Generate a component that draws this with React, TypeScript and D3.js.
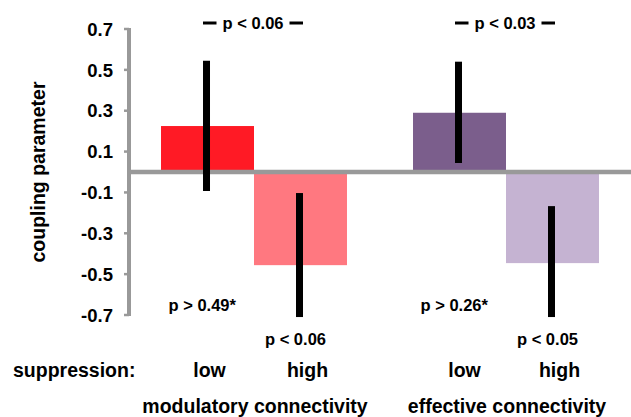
import React from "react";
import * as d3 from "d3";

const groups = ["modulatory connectivity", "effective connectivity"];
const levels = ["low", "high"];
const means = [
  [0.225, -0.456],
  [0.29, -0.446],
];
const errLo = [
  [-0.093, -0.71],
  [0.044, -0.71],
];
const errHi = [
  [0.544, -0.103],
  [0.54, -0.167],
];
const colors = [
  ["#FF1A25", "#FF7880"],
  ["#7B5E8C", "#C5B3D2"],
];
const topPLabels = ["p < 0.06", "p < 0.03"];
const lowPLabels = ["p > 0.49*", "p > 0.26*"];
const highPLabels = ["p < 0.06", "p < 0.05"];
const yTicks = [0.7, 0.5, 0.3, 0.1, -0.1, -0.3, -0.5, -0.7];

const W = 631;
const H = 417;
const FONT = "'Liberation Sans', Arial, Helvetica, sans-serif";

export default function App() {
  const y = d3.scaleLinear().domain([-0.7, 0.7]).range([315, 29]);
  const xg = d3
    .scaleBand<string>()
    .domain(groups)
    .range([128, 632])
    .paddingInner(0.262)
    .paddingOuter(0.131);
  const xi = d3.scaleBand<string>().domain(levels).range([0, xg.bandwidth()]).padding(0);
  const axisX = 129;
  const grey = "#999999";

  return (
    <div style={{ position: "fixed", left: 0, top: 0, width: W, height: H, overflow: "hidden" }}>
      <svg width={W} height={H} style={{ display: "block", background: "#fff" }} fontFamily={FONT} fontWeight="bold">
        {/* bars */}
        {groups.map((g, gi) =>
          levels.map((l, li) => {
            const x0 = (xg(g) as number) + (xi(l) as number);
            const v = means[gi][li];
            return (
              <rect
                key={g + l}
                x={x0}
                y={Math.min(y(v), y(0))}
                width={xi.bandwidth()}
                height={Math.abs(y(v) - y(0))}
                fill={colors[gi][li]}
              />
            );
          })
        )}
        {/* zero line */}
        <line x1={axisX} x2={W} y1={y(0)} y2={y(0)} stroke={grey} strokeWidth={4.5} />
        {/* y axis */}
        <line x1={axisX} x2={axisX} y1={y(0.7) - 1} y2={y(-0.7) + 1} stroke={grey} strokeWidth={4} />
        {yTicks.map((t) => (
          <g key={t}>
            <line x1={axisX - 5} x2={axisX} y1={y(t)} y2={y(t)} stroke={grey} strokeWidth={2.5} />
            <text x={113} y={y(t)} dy="0.36em" textAnchor="end" fontSize={18.5} fill="#000">
              {t.toFixed(1)}
            </text>
          </g>
        ))}
        <text
          transform={`translate(${38},${y(0)}) rotate(-90)`}
          textAnchor="middle"
          dy="0.36em"
          fontSize={19.5}
          fill="#000"
        >
          coupling parameter
        </text>
        {/* error bars */}
        {groups.map((g, gi) =>
          levels.map((l, li) => {
            const cx = (xg(g) as number) + (xi(l) as number) + xi.bandwidth() / 2 - 1;
            return (
              <line
                key={"e" + g + l}
                x1={cx}
                x2={cx}
                y1={y(errHi[gi][li])}
                y2={y(errLo[gi][li])}
                stroke="#000"
                strokeWidth={7}
              />
            );
          })
        )}
        {/* significance brackets */}
        {groups.map((g, gi) => {
          const cLow = (xg(g) as number) + (xi("low") as number) + xi.bandwidth() / 2 - 1;
          const cHigh = (xg(g) as number) + (xi("high") as number) + xi.bandwidth() / 2 - 1;
          const mid = (cLow + cHigh) / 2;
          const yy = 23;
          return (
            <g key={"s" + g}>
              <line x1={cLow - 3.5} x2={cLow + 10} y1={yy} y2={yy} stroke="#000" strokeWidth={3} />
              <line x1={cHigh - 10} x2={cHigh + 3.5} y1={yy} y2={yy} stroke="#000" strokeWidth={3} />
              <text x={mid} y={yy} dy="0.36em" textAnchor="middle" fontSize={16.5} fill="#000">
                {topPLabels[gi]}
              </text>
              <text x={cLow - 38} y={305} dy="0.36em" textAnchor="start" fontSize={16.5} fill="#000">
                {lowPLabels[gi]}
              </text>
              <text x={cHigh - 4} y={339} dy="0.36em" textAnchor="middle" fontSize={16.5} fill="#000">
                {highPLabels[gi]}
              </text>
            </g>
          );
        })}
        {/* category labels */}
        <text x={13} y={370} dy="0.36em" fontSize={19.5} fill="#000">
          suppression:
        </text>
        {groups.map((g, gi) =>
          levels.map((l, li) => {
            const cx = (xg(g) as number) + (xi(l) as number) + xi.bandwidth() / 2;
            return (
              <text
                key={"l" + g + l}
                x={cx + (li === 0 ? 2 + gi * 3 : 7)}
                y={370}
                dy="0.36em"
                textAnchor="middle"
                fontSize={19.5}
                fill="#000"
              >
                {l}
              </text>
            );
          })
        )}
        {groups.map((g) => (
          <text
            key={"g" + g}
            x={(xg(g) as number) + xg.bandwidth() / 2 + 1}
            y={406}
            dy="0.36em"
            textAnchor="middle"
            fontSize={19.5}
            fill="#000"
          >
            {g}
          </text>
        ))}
      </svg>
    </div>
  );
}
